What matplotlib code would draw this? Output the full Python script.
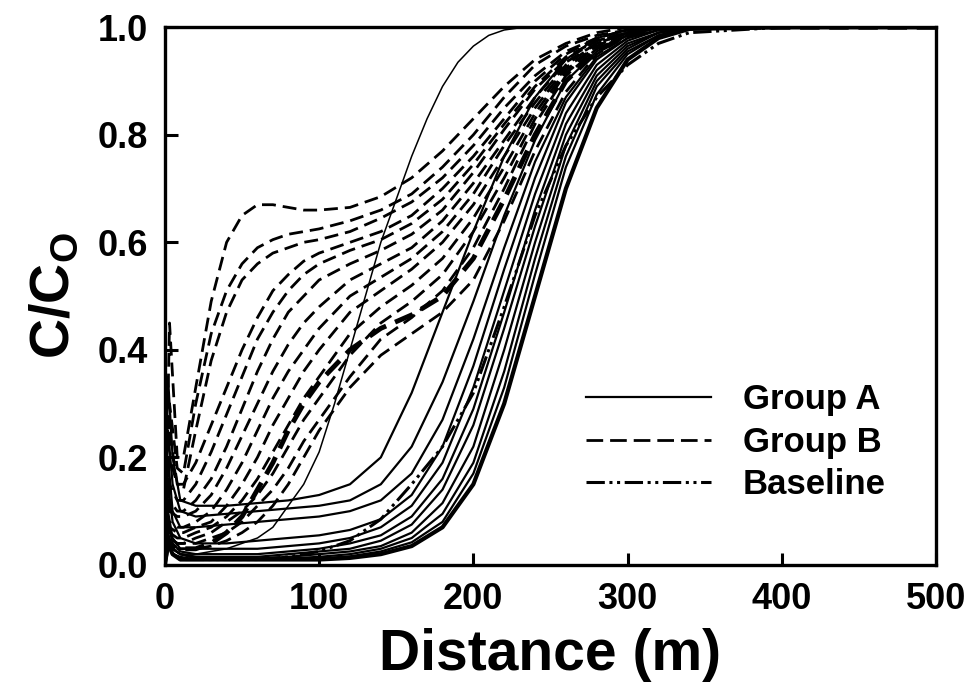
import numpy as np
import matplotlib
matplotlib.use("Agg")
import matplotlib.pyplot as plt

plt.rcParams["font.family"] = ["Liberation Sans", "DejaVu Sans"]
plt.rcParams["font.weight"] = "bold"
plt.rcParams["mathtext.fontset"] = "custom"
plt.rcParams["mathtext.rm"] = "Liberation Sans:bold"
plt.rcParams["mathtext.bf"] = "Liberation Sans:bold"

# x grids (m)
xa = [0, 2, 5, 10, 20, 40, 60, 80, 100, 120, 140, 160, 180, 200, 220, 240, 260, 280, 300, 320, 340, 400, 500]
xb = [0, 3, 8, 12, 20, 30, 40, 50, 60, 70, 80, 90, 100, 120, 140, 160, 180, 200, 220, 240, 260, 280, 300, 320, 340, 400, 500]
x_early = [0, 2, 5, 10, 20, 40, 60, 70, 80, 90, 100, 110, 120, 130, 140, 150, 160, 170, 180, 190, 200, 210, 220, 230, 240, 500]

# Group A (solid) curves, C/Co
group_a = [
    [0.0, 0.35, 0.20, 0.12, 0.11, 0.11, 0.115, 0.12, 0.13, 0.15, 0.20, 0.32, 0.47, 0.62, 0.76, 0.87, 0.94, 0.98, 0.995, 1, 1, 1, 1],
    [0.0, 0.25, 0.15, 0.10, 0.09, 0.095, 0.10, 0.105, 0.11, 0.12, 0.15, 0.22, 0.34, 0.49, 0.65, 0.79, 0.90, 0.955, 0.985, 1, 1, 1, 1],
    [0.0, 0.20, 0.10, 0.07, 0.07, 0.075, 0.08, 0.085, 0.09, 0.10, 0.12, 0.17, 0.27, 0.42, 0.59, 0.75, 0.87, 0.945, 0.98, 0.995, 1, 1, 1],
    [0.0, 0.15, 0.08, 0.05, 0.04, 0.04, 0.045, 0.05, 0.055, 0.065, 0.085, 0.13, 0.22, 0.37, 0.55, 0.72, 0.86, 0.94, 0.98, 0.995, 1, 1, 1],
    [0.0, 0.10, 0.05, 0.03, 0.03, 0.03, 0.03, 0.035, 0.04, 0.05, 0.07, 0.11, 0.19, 0.33, 0.51, 0.69, 0.84, 0.93, 0.975, 0.995, 1, 1, 1],
    [0.0, 0.08, 0.04, 0.025, 0.02, 0.02, 0.02, 0.025, 0.03, 0.04, 0.055, 0.09, 0.16, 0.29, 0.47, 0.66, 0.82, 0.92, 0.97, 0.99, 1, 1, 1],
    [0.0, 0.06, 0.03, 0.02, 0.015, 0.015, 0.015, 0.02, 0.025, 0.03, 0.045, 0.075, 0.14, 0.26, 0.44, 0.63, 0.80, 0.91, 0.965, 0.99, 1, 1, 1],
    [0.0, 0.05, 0.03, 0.02, 0.015, 0.012, 0.012, 0.015, 0.02, 0.025, 0.035, 0.06, 0.115, 0.22, 0.40, 0.60, 0.78, 0.90, 0.96, 0.99, 1, 1, 1],
    [0.0, 0.05, 0.03, 0.02, 0.012, 0.01, 0.01, 0.012, 0.015, 0.02, 0.03, 0.05, 0.095, 0.19, 0.36, 0.57, 0.76, 0.89, 0.955, 0.985, 1, 1, 1],
    [0.0, 0.04, 0.02, 0.015, 0.01, 0.01, 0.01, 0.01, 0.012, 0.016, 0.025, 0.042, 0.08, 0.17, 0.33, 0.54, 0.74, 0.875, 0.95, 0.985, 0.998, 1, 1],
    [0.0, 0.04, 0.02, 0.01, 0.01, 0.01, 0.01, 0.01, 0.01, 0.013, 0.02, 0.035, 0.07, 0.15, 0.30, 0.50, 0.70, 0.85, 0.94, 0.98, 0.997, 1, 1],
]
group_a_early = [0.0, 0.05, 0.03, 0.02, 0.02, 0.03, 0.05, 0.07, 0.11, 0.15, 0.21, 0.30, 0.40, 0.50, 0.60, 0.68, 0.76, 0.83, 0.89, 0.935, 0.965, 0.985, 0.995, 0.999, 1, 1]
baseline = [0.0, 0.03, 0.02, 0.01, 0.01, 0.01, 0.01, 0.015, 0.025, 0.045, 0.085, 0.15, 0.22, 0.32, 0.48, 0.65, 0.78, 0.87, 0.93, 0.97, 0.99, 1, 1]

# Group B (dashed) curves
group_b = [
    [0.02, 0.45, 0.20, 0.20, 0.33, 0.49, 0.60, 0.65, 0.67, 0.67, 0.665, 0.66, 0.66, 0.665, 0.685, 0.72, 0.77, 0.83, 0.89, 0.94, 0.97, 0.99, 1.0, 1, 1, 1, 1],
    [0.02, 0.30, 0.18, 0.17, 0.30, 0.43, 0.51, 0.56, 0.59, 0.605, 0.615, 0.62, 0.625, 0.64, 0.66, 0.69, 0.74, 0.80, 0.87, 0.93, 0.965, 0.985, 0.995, 1, 1, 1, 1],
    [0.02, 0.25, 0.15, 0.14, 0.25, 0.38, 0.47, 0.53, 0.56, 0.58, 0.59, 0.60, 0.605, 0.62, 0.645, 0.675, 0.72, 0.78, 0.85, 0.91, 0.955, 0.98, 0.995, 1, 1, 1, 1],
    [0.02, 0.20, 0.15, 0.15, 0.19, 0.26, 0.33, 0.40, 0.46, 0.51, 0.54, 0.565, 0.58, 0.60, 0.62, 0.65, 0.70, 0.76, 0.83, 0.90, 0.95, 0.98, 0.995, 1, 1, 1, 1],
    [0.02, 0.15, 0.12, 0.12, 0.15, 0.21, 0.28, 0.35, 0.42, 0.47, 0.51, 0.54, 0.56, 0.585, 0.605, 0.635, 0.68, 0.745, 0.82, 0.89, 0.945, 0.975, 0.99, 1, 1, 1, 1],
    [0.02, 0.12, 0.10, 0.10, 0.12, 0.16, 0.22, 0.29, 0.36, 0.42, 0.47, 0.50, 0.53, 0.56, 0.585, 0.615, 0.66, 0.73, 0.81, 0.885, 0.94, 0.975, 0.99, 1, 1, 1, 1],
    [0.02, 0.10, 0.09, 0.09, 0.10, 0.13, 0.18, 0.24, 0.30, 0.36, 0.41, 0.45, 0.48, 0.53, 0.56, 0.59, 0.64, 0.71, 0.79, 0.87, 0.935, 0.97, 0.99, 1, 1, 1, 1],
    [0.02, 0.08, 0.07, 0.07, 0.08, 0.10, 0.14, 0.19, 0.25, 0.31, 0.36, 0.40, 0.44, 0.50, 0.535, 0.57, 0.62, 0.69, 0.78, 0.86, 0.93, 0.97, 0.99, 1, 1, 1, 1],
    [0.02, 0.07, 0.06, 0.06, 0.07, 0.08, 0.11, 0.15, 0.20, 0.26, 0.31, 0.36, 0.40, 0.47, 0.51, 0.55, 0.60, 0.67, 0.76, 0.85, 0.925, 0.965, 0.99, 1, 1, 1, 1],
    [0.02, 0.06, 0.05, 0.05, 0.06, 0.07, 0.09, 0.12, 0.16, 0.21, 0.26, 0.31, 0.35, 0.43, 0.48, 0.52, 0.57, 0.645, 0.74, 0.84, 0.92, 0.965, 0.99, 1, 1, 1, 1],
    [0.02, 0.05, 0.04, 0.04, 0.05, 0.06, 0.08, 0.10, 0.13, 0.17, 0.22, 0.27, 0.31, 0.39, 0.45, 0.49, 0.54, 0.62, 0.72, 0.83, 0.915, 0.96, 0.985, 1, 1, 1, 1],
    [0.02, 0.05, 0.04, 0.04, 0.04, 0.05, 0.06, 0.08, 0.11, 0.14, 0.18, 0.23, 0.27, 0.35, 0.42, 0.46, 0.51, 0.59, 0.70, 0.82, 0.91, 0.96, 0.985, 1, 1, 1, 1],
    [0.02, 0.04, 0.03, 0.03, 0.03, 0.035, 0.045, 0.06, 0.08, 0.11, 0.15, 0.20, 0.25, 0.33, 0.39, 0.43, 0.47, 0.53, 0.64, 0.77, 0.88, 0.95, 0.985, 1, 1, 1, 1],
]
group_b_thick = [0.02, 0.04, 0.03, 0.03, 0.03, 0.04, 0.06, 0.09, 0.14, 0.19, 0.25, 0.30, 0.34, 0.40, 0.44, 0.465, 0.50, 0.57, 0.68, 0.80, 0.90, 0.955, 0.985, 1, 1, 1, 1]

fig = plt.figure(figsize=(9.7, 7.0), dpi=100)
ax = fig.add_axes([0.170, 0.193, 0.795, 0.768])

for ya in group_a:
    ax.plot(xa, ya, color="black", lw=1.6)
ax.plot(x_early, group_a_early, color="black", lw=1.1)
ax.plot(xa, group_a[-1], color="black", lw=3.0)

dash_b = (0, (5, 2.5))
for yb in group_b:
    ax.plot(xb, yb, color="black", lw=2.0, linestyle=dash_b)
ax.plot(xb, group_b_thick, color="black", lw=3.5, linestyle=(0, (4, 2)))

bl_style = (0, (6, 1.5, 1, 1.5, 1, 1.5))
ax.plot(xa, baseline, color="black", lw=2.2, linestyle=bl_style)

# legend proxies
ax.plot([], [], color="black", lw=1.6, label="Group A")
ax.plot([], [], color="black", lw=2.0, linestyle=(0, (6, 2.5)), label="Group B")
ax.plot([], [], color="black", lw=2.2, linestyle=bl_style, label="Baseline")
handles, labels = ax.get_legend_handles_labels()
ax.legend(handles, labels, loc="lower right", bbox_to_anchor=(0.975, 0.06),
          frameon=False, handlelength=3.6, handletextpad=0.9,
          labelspacing=0.28, prop={"weight": "bold", "size": 25})

ax.set_xlim(0, 500)
ax.set_ylim(0, 1.0)
ax.set_xticks([0, 100, 200, 300, 400, 500])
ax.set_yticks([0.0, 0.2, 0.4, 0.6, 0.8, 1.0])
ax.set_yticklabels(["0.0", "0.2", "0.4", "0.6", "0.8", "1.0"])
ax.tick_params(direction="in", length=9, width=2.2, labelsize=26, pad=12,
               top=False, right=False)
for lab in ax.get_xticklabels() + ax.get_yticklabels():
    lab.set_fontweight("bold")
for s in ax.spines.values():
    s.set_linewidth(2.4)

ax.set_xlabel("Distance (m)", fontsize=41, fontweight="bold", labelpad=8)
ax.set_ylabel(r"C/C$_\mathrm{O}$", fontsize=40, fontweight="bold", labelpad=12)

fig.savefig("out.png", dpi=100)
